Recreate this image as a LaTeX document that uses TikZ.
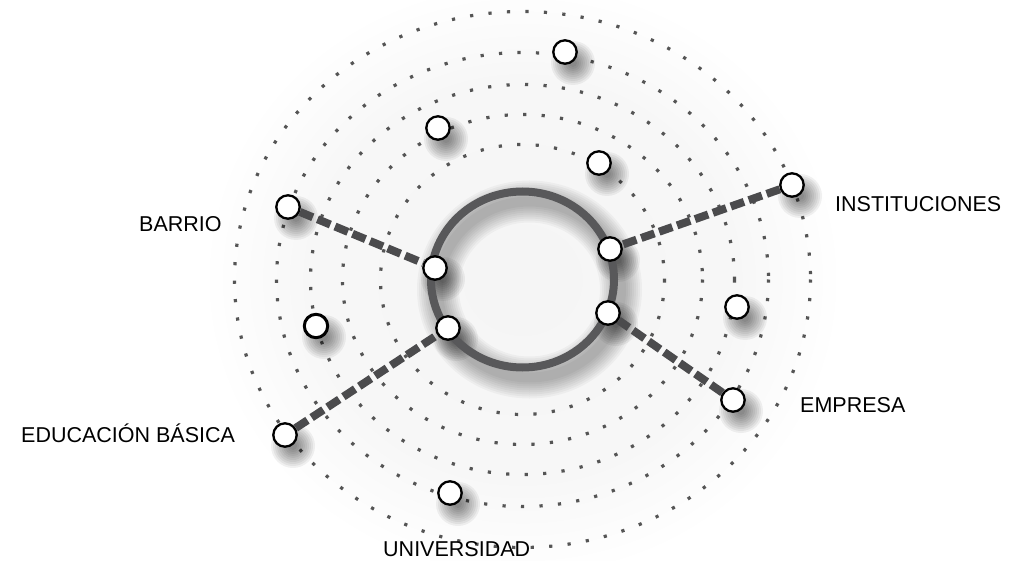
\documentclass[tikz,border=0pt]{standalone}
\usepackage{fontspec}
\setmainfont{Liberation Sans}
\usetikzlibrary{calc}
\definecolor{dotgray}{HTML}{555555}
\definecolor{ringgray}{HTML}{58585A}
\definecolor{conngray}{HTML}{4B4B4D}
\pgfdeclareradialshading{halo}{\pgfpoint{0bp}{0bp}}{color(0bp)=(black!4); color(17bp)=(black!3); color(25bp)=(white); color(50bp)=(white)}
\tikzset{
  ringdots/.style={draw=dotgray, line width=3.2pt, dash pattern=on 3.2pt off 15.3pt},
  centerring/.style={draw=ringgray, line width=8pt},
  conn/.style={draw=conngray, line width=8pt, dash pattern=on 14pt off 5pt},
  dot/.style={circle, draw=black, line width=2.3pt, fill=white, minimum size=23.4pt, inner sep=0pt},
  lab/.style={anchor=base west, inner sep=0pt, font=\fontsize{21.5}{24}\selectfont, text=black}
}
\begin{document}
\begin{tikzpicture}[x=1pt,y=-1pt]
\useasboundingbox (0,0) rectangle (1032,561);
\coordinate (C) at (522.5,279.5);
% background halo
\shade[shading=halo] (C) ellipse [x radius=320, y radius=300];
% dotted orbits
\foreach \a/\b in {142/135,180/165,212/195,246/227,288/268}
  \draw[ringdots] (C) ellipse [x radius=\a, y radius=\b];
% shadow of central ring
\foreach \w in {10,14,...,42}
  \draw[black, opacity=0.035, line width=\w pt] ($(C)+(7,10)$) ellipse [x radius=91.5, y radius=88];
% node shadows
\foreach \p in {(565,52),(438,128),(599,163),(792,185),(288,207),(435,268),(610,249),(448,328),(608,313),(316,326),(737,307),(285,435),(733,400),(450,493)}
  \foreach \r in {4,6,...,22}
    \fill[black, opacity=0.055] \p ++(8,11) circle[radius=\r];
% central ring
\draw[centerring] (C) ellipse [x radius=91.5, y radius=88];
% nodes
\node[dot] (n1) at (565,52) {};
\node[dot] (n2) at (438,128) {};
\node[dot] (n3) at (599,163) {};
\node[dot] (inst) at (792,185) {};
\node[dot] (barrio) at (288,207) {};
\node[dot] (rb) at (435,268) {};
\node[dot] (ri) at (610,249) {};
\node[dot] (re) at (448,328) {};
\node[dot] (rm) at (608,313) {};
\node[dot, line width=3pt] (n4) at (316,326) {};
\node[dot] (n5) at (737,307) {};
\node[dot] (edu) at (285,435) {};
\node[dot] (emp) at (733,400) {};
\node[dot] (uni) at (450,493) {};
% connectors
\draw[conn] (barrio) -- (rb);
\draw[conn] (inst) -- (ri);
\draw[conn] (edu) -- (re);
\draw[conn] (emp) -- (rm);
% labels
\node[lab] (lbarrio) at (139,232) {BARRIO};
\node[lab] (linst) at (835,212) {INSTITUCIONES};
\node[lab] (lemp) at (800,412.5) {EMPRESA};
\node[lab] (ledu) at (21,442.5) {EDUCACIÓN BÁSICA};
\node[lab] (luni) at (383,556) {UNIVERSIDAD};
\end{tikzpicture}
\end{document}
